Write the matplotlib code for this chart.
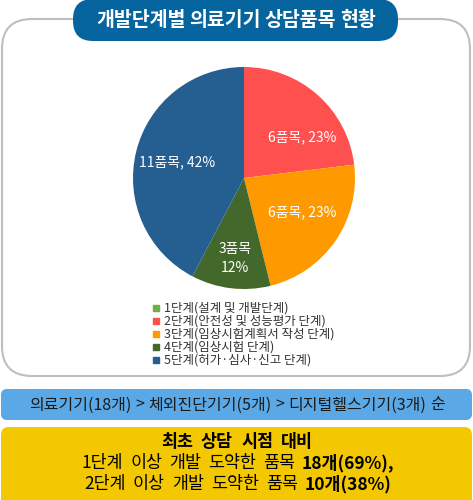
import numpy as np
import matplotlib
matplotlib.use('Agg')
import matplotlib.pyplot as plt
from matplotlib.patches import FancyBboxPatch
from matplotlib.lines import Line2D

plt.rcParams['font.family'] = ['Noto Sans CJK KR', 'DejaVu Sans']

# data
stages = ['1단계(설계 및 개발단계)', '2단계(안전성 및 성능평가 단계)',
          '3단계(임상시험계획서 작성 단계)', '4단계(임상시험 단계)',
          '5단계(허가·심사·신고 단계)']
counts = [0, 6, 6, 3, 11]
pct_labels = ['', '6품목, 23%', '6품목, 23%', '3품목\n12%', '11품목, 42%']
colors = ['#70AD47', '#FF5050', '#FF9900', '#43682B', '#255E91']

title = '개발단계별 의료기기 상담품목 현황'
rank_text = '의료기기(18개) > 체외진단기기(5개) > 디지털헬스기기(3개) 순'
summary_head = '최초 상담 시점 대비'
summary_lines = [('1단계 이상 개발 도약한 품목', '18개(69%),'),
                 ('2단계 이상 개발 도약한 품목', '10개(38%)')]

W, H = 473, 500
fig = plt.figure(figsize=(W / 100, H / 100), dpi=100)

# background axes in pixel units (y down)
bg = fig.add_axes([0, 0, 1, 1])
bg.set_xlim(0, W)
bg.set_ylim(H, 0)
bg.axis('off')
fig.canvas.draw()
rend = fig.canvas.get_renderer()

def rbox(x0, y0, x1, y1, r, fc, ec='none', lw=0):
    p = FancyBboxPatch((x0, y0), x1 - x0, y1 - y0,
                       boxstyle='round,pad=0,rounding_size=%g' % r,
                       fc=fc, ec=ec, lw=lw, mutation_aspect=1)
    bg.add_patch(p)

# words placed one by one so the word gaps match the original
def words_line(xc, y, words, size, gap, color='black'):
    items = []
    for txt, weight in words:
        t = bg.text(0, y, txt, fontsize=size, fontweight=weight, color=color,
                    ha='left', va='center')
        items.append((t, t.get_window_extent(rend).width))
    total = sum(w for _, w in items) + gap * (len(items) - 1)
    x = xc - total / 2
    for t, w in items:
        t.set_x(x)
        x += w + gap

def split(s, weight='normal'):
    return [(w, weight) for w in s.split(' ')]

# outer frame and title pill
rbox(2, 19, 470, 376, 30, 'white', '#BFBFBF', 1.5)
rbox(73, -1, 398, 41, 20, '#06659F')
words_line(236, 20, split(title, 'bold'), 14, 4, color='white')

# rank box and summary box
rbox(1, 389, 472, 420, 6, '#5AA9E6')
words_line(237, 405, split(rank_text), 11.5, 4, color='#1a1a1a')
rbox(1, 427, 472, 506, 8, '#F4C800')
words_line(237, 442, split(summary_head, 'bold'), 12.5, 8)
for i, (norm, bold) in enumerate(summary_lines):
    words_line(238, 463 + i * 21, split(norm) + split(bold, 'bold'), 12.5, 7)

# pie
cx, cy, r = 244, 178, 111
pax = fig.add_axes([(cx - r) / W, (H - cy - r) / H, 2 * r / W, 2 * r / H])
wedges, _ = pax.pie(counts, colors=colors, startangle=90, counterclock=False,
                    wedgeprops=dict(linewidth=0))
pax.set_xlim(-1, 1)
pax.set_ylim(-1, 1)

# label placement (angle in degrees, radius fraction)
lab_ang = [0, 35, -30, -96.5, 167]
lab_dist = [0.6, 0.64, 0.61, 0.73, 0.62]
for i, c in enumerate(counts):
    if c == 0:
        continue
    a = np.deg2rad(lab_ang[i])
    pax.text(lab_dist[i] * np.cos(a), lab_dist[i] * np.sin(a), pct_labels[i],
             color='white', fontsize=10, ha='center', va='center', linespacing=1.5)

handles = [Line2D([], [], marker='s', ls='none', color=col, markersize=4.5)
           for col in colors]
fig.legend(handles, stages, loc='upper left', bbox_to_anchor=(152 / W, 1 - 302 / H),
           frameon=False, fontsize=9, handlelength=0.6, handletextpad=0.35,
           labelspacing=0, borderpad=0, borderaxespad=0, labelcolor='#333333')

fig.savefig('out.png', dpi=100)
